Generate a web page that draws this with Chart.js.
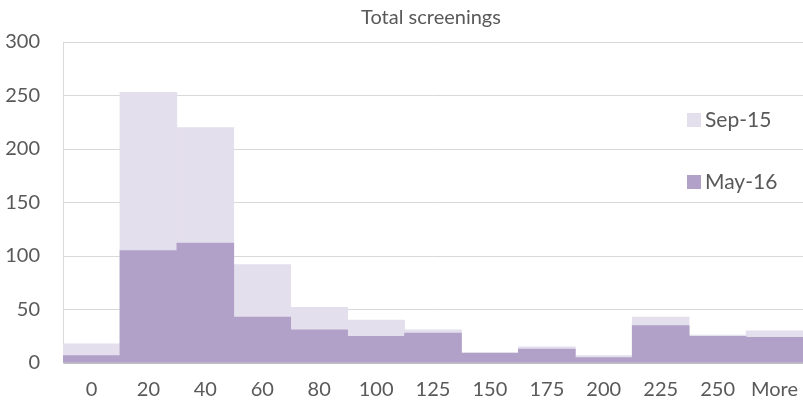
<!DOCTYPE html>
<html>
<head>
<meta charset="utf-8">
<script src="https://cdn.jsdelivr.net/npm/chart.js@4/dist/chart.umd.min.js"></script>
<style>
  html, body { margin: 0; padding: 0; background: #ffffff; }
  #wrap { width: 803px; height: 405px; }
</style>
</head>
<body>
<div id="wrap"><canvas id="c" width="803" height="405"></canvas></div>
<script>
// Histogram bins (minutes) and counts for the two screening rounds
const chartTitle = 'Total screenings';
const bins = ['0', '20', '40', '60', '80', '100', '125', '150', '175', '200', '225', '250', 'More'];
const sep15 = [18, 253, 220, 92, 52, 40, 31, 10, 15, 7, 43, 26, 30];
const may16 = [7, 105, 112, 43, 31, 25, 28, 9, 13, 5, 35, 25, 24];
const seriesNames = ['Sep-15', 'May-16'];
const yTicks = [0, 50, 100, 150, 200, 250, 300];

const FONT = 'Lato, "Open Sans", sans-serif';
const TEXT = '#595959';
const COLORS = ['#e4dfec', '#b1a0c7'];

// Title and right-hand legend drawn over the plot
const overlay = {
  id: 'overlay',
  afterDraw(chart) {
    const ctx = chart.ctx;
    ctx.save();
    ctx.fillStyle = TEXT;
    ctx.font = '20px ' + FONT;
    ctx.textAlign = 'center';
    ctx.textBaseline = 'middle';
    ctx.fillText(chartTitle, 431, 18);

    ctx.font = '21px ' + FONT;
    ctx.textAlign = 'left';
    ctx.textBaseline = 'alphabetic';
    const baselines = [127, 189];
    chart.data.datasets.forEach((ds, i) => {
      const b = baselines[i];
      ctx.fillStyle = ds.backgroundColor;
      ctx.fillRect(687, b - 14, 14, 14);
      ctx.fillStyle = TEXT;
      ctx.fillText(ds.label, 705, b);
    });
    ctx.restore();
  }
};

new Chart(document.getElementById('c'), {
  type: 'bar',
  data: {
    labels: bins,
    datasets: [
      { label: seriesNames[0], data: sep15, backgroundColor: COLORS[0], order: 2,
        grouped: false, barPercentage: 1, categoryPercentage: 1,
        borderWidth: 0 },
      { label: seriesNames[1], data: may16, backgroundColor: COLORS[1], order: 1,
        grouped: false, barPercentage: 1, categoryPercentage: 1,
        borderWidth: 0 }
    ]
  },
  options: {
    responsive: false,
    animation: false,
    layout: { padding: { top: 42, right: 0, left: 0, bottom: 0 } },
    plugins: {
      legend: { display: false },
      title: { display: false },
      tooltip: { enabled: false }
    },
    scales: {
      x: {
        grid: { display: false, drawTicks: false },
        border: { display: true, color: '#bfbfbf', width: 1 },
        ticks: { color: TEXT, font: { family: FONT, size: 20 }, padding: 15, maxRotation: 0, autoSkip: false },
        afterFit(s) { s.height = 42; s.paddingLeft = 0; s.paddingRight = 0; }
      },
      y: {
        min: 0, max: 300,
        afterBuildTicks(s) { s.ticks = yTicks.map(v => ({ value: v })); },
        grid: { color: '#d9d9d9', lineWidth: 1, drawTicks: false },
        border: { display: true, color: '#d9d9d9', width: 1 },
        ticks: { color: TEXT, font: { family: FONT, size: 20 }, padding: 23 },
        afterFit(s) { s.width = 63; s.paddingTop = 0; s.paddingBottom = 0; }
      }
    }
  },
  plugins: [overlay]
});
</script>
</body>
</html>
